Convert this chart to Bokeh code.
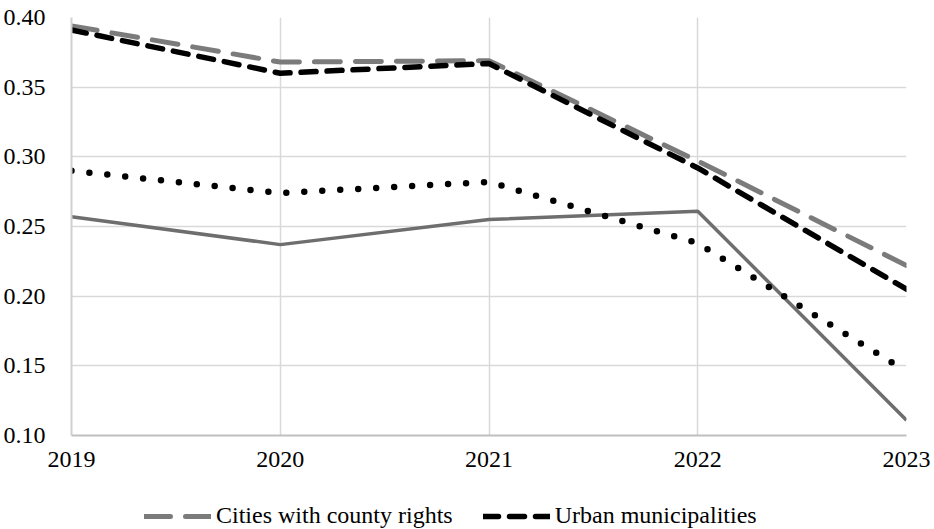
from bokeh.plotting import figure
from bokeh.layouts import column
from bokeh.models import Legend, LegendItem, FixedTicker, NumeralTickFormatter, Range1d
from bokeh.embed import file_html
from bokeh.resources import INLINE

years = [2019, 2020, 2021, 2022, 2023]
cities_county_rights = [0.394, 0.368, 0.369, 0.297, 0.222]
urban_municipalities = [0.391, 0.360, 0.367, 0.292, 0.205]
dotted_series = [0.290, 0.274, 0.282, 0.238, 0.146]
solid_series = [0.257, 0.237, 0.255, 0.261, 0.111]
y_ticks = [0.10, 0.15, 0.20, 0.25, 0.30, 0.35, 0.40]
legend_labels = ["Cities with county rights", "Urban municipalities"]

FONT = "Liberation Serif"
GRAY_DASH = dict(line_color="#7b7b7b", line_width=5, line_dash="26 15", line_cap="round")
BLACK_DASH = dict(line_color="#000000", line_width=5.5, line_dash="15 11", line_cap="round")

p = figure(width=932, height=489, output_backend="svg", toolbar_location=None,
           x_range=Range1d(2019, 2023), y_range=Range1d(0.10, 0.40),
           min_border_left=70, min_border_right=26, min_border_top=17, min_border_bottom=54)
p.outline_line_color = None

p.xaxis.ticker = FixedTicker(ticks=years)
p.yaxis.ticker = FixedTicker(ticks=y_ticks)
p.yaxis.formatter = NumeralTickFormatter(format="0.00")
for ax in (p.xaxis[0], p.yaxis[0]):
    ax.major_tick_line_color = None
    ax.minor_tick_line_color = None
    ax.major_label_text_font = FONT
    ax.major_label_text_font_size = "24px"
    ax.major_label_text_color = "#000000"
p.xaxis.axis_line_color = "#bfbfbf"
p.xaxis.axis_line_width = 2
p.yaxis.axis_line_color = "#d0d0d0"
p.yaxis.axis_line_width = 2
p.xaxis.major_label_standoff = 10
p.yaxis.major_label_standoff = 20

p.xgrid.ticker = FixedTicker(ticks=years)
p.ygrid.ticker = FixedTicker(ticks=y_ticks)
p.grid.grid_line_color = "#d9d9d9"
p.grid.grid_line_width = 1.5

p.line(years, solid_series, line_color="#6e6e6e", line_width=3.5)
p.line(years, dotted_series, line_color="#000000", line_width=6.5,
       line_dash="0 18", line_cap="round")
p.line(years, cities_county_rights, **GRAY_DASH)
p.line(years, urban_municipalities, **BLACK_DASH)

# legend strip below the chart (its ranges keep the series out of view; only the legend shows)
q = figure(width=932, height=40, output_backend="svg", toolbar_location=None,
           x_range=Range1d(0, 1), y_range=Range1d(0, 1),
           x_axis_type=None, y_axis_type=None,
           min_border_left=0, min_border_right=0, min_border_top=0, min_border_bottom=0)
q.outline_line_color = None
q.xgrid.visible = False
q.ygrid.visible = False
lg_county = q.line(years, cities_county_rights, **GRAY_DASH)
lg_urban = q.line(years, urban_municipalities, **BLACK_DASH)

legend = Legend(items=[
    LegendItem(label=legend_labels[0], renderers=[lg_county]),
    LegendItem(label=legend_labels[1], renderers=[lg_urban]),
], orientation="horizontal", location=(73, 0))
legend.label_text_font = FONT
legend.label_text_font_size = "24px"
legend.label_text_color = "#000000"
legend.glyph_width = 67
legend.glyph_height = 20
legend.label_standoff = 5
legend.spacing = 30
legend.padding = 0
legend.margin = 0
legend.border_line_color = None
legend.background_fill_alpha = 0
q.add_layout(legend, "center")

layout = column(p, q, spacing=0)
open("out.html", "w").write(file_html(layout, INLINE))
